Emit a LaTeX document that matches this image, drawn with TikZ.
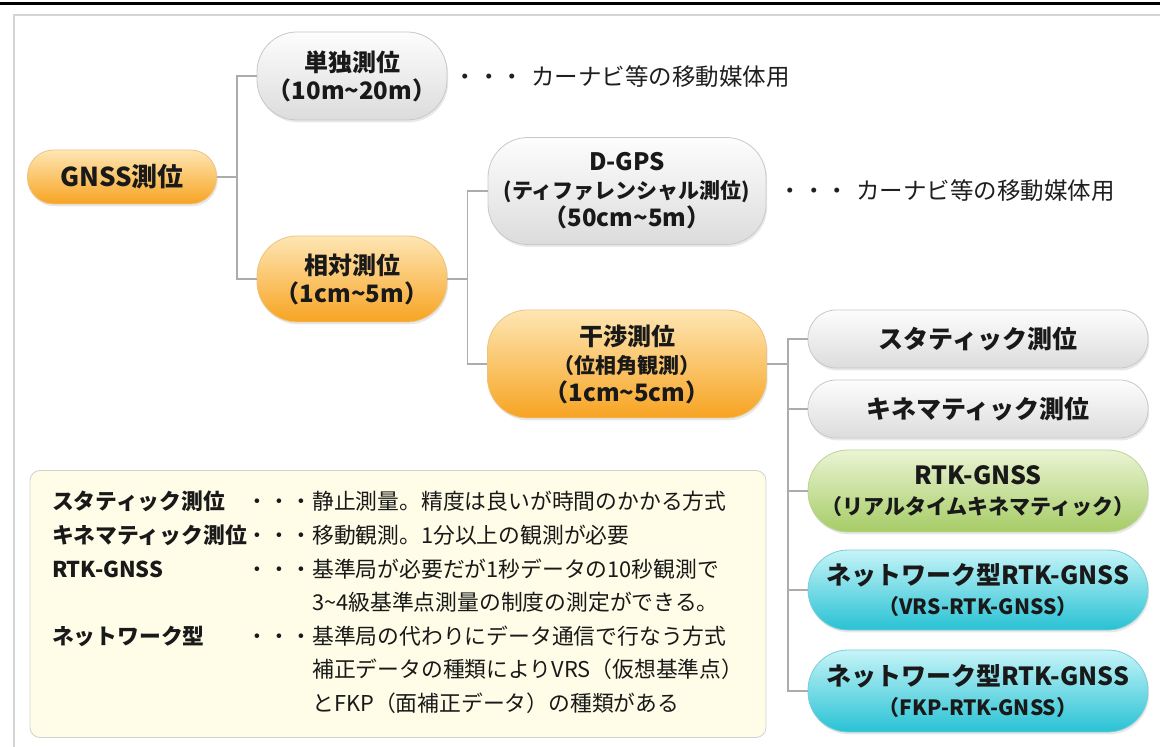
\documentclass[tikz,border=0pt]{standalone}
\usepackage{fontspec}
\setmainfont{Noto Sans CJK JP}
\usepackage{tikz}
\usetikzlibrary{shadows,positioning,calc}
\definecolor{grisH}{RGB}{253,253,253}
\definecolor{grisB}{RGB}{220,220,220}
\definecolor{grisT}{RGB}{200,200,200}
\definecolor{ambreH}{RGB}{254,230,180}
\definecolor{ambreB}{RGB}{247,164,34}
\definecolor{ambreT}{RGB}{236,196,130}
\definecolor{vertH}{RGB}{234,244,212}
\definecolor{vertB}{RGB}{166,204,102}
\definecolor{vertT}{RGB}{188,212,152}
\definecolor{turqH}{RGB}{198,244,248}
\definecolor{turqB}{RGB}{40,194,212}
\definecolor{turqT}{RGB}{120,206,216}
\definecolor{legfond}{RGB}{255,253,231}
\definecolor{trait}{RGB}{172,172,172}
\definecolor{cadre}{RGB}{212,212,212}
\tikzstyle{pill}=[rectangle, rounded corners=20pt, align=center, inner sep=0pt,
  text=black!90, font=\fontsize{12}{14}\selectfont\bfseries,
  drop shadow={opacity=0.18,shadow xshift=0.6pt,shadow yshift=-1.2pt}]
\tikzstyle{gris} = [pill, draw=grisT, top color=grisH, bottom color=grisB]
\tikzstyle{ambre} = [pill, draw=ambreT, top color=ambreH, bottom color=ambreB]
\tikzstyle{verte} = [pill, draw=vertT, top color=vertH, bottom color=vertB]
\tikzstyle{turq} = [pill, draw=turqT, top color=turqH, bottom color=turqB]
\tikzstyle{grand} = [minimum width=170pt, font=\fontsize{12.5}{15}\selectfont\bfseries]
\tikzstyle{texto} = [anchor=west, inner sep=0pt, text=black!88,
  font=\fontsize{11.75}{14}\selectfont]
\tikzstyle{legende} = [draw=black!18, fill=legfond, rounded corners=5pt,
  minimum width=368pt, minimum height=133.5pt, inner xsep=11pt, inner ysep=0pt,
  text width=346pt, align=left, text=black!90, font=\fontsize{10.9}{16.8}\selectfont]
\tikzstyle{line} = [draw, color=trait, line width=0.6pt]
\newcommand{\gris}[3]{node (p#1)[gris,#2]{#3}}
\newcommand{\ambre}[3]{node (p#1)[ambre,#2]{#3}}
\newcommand{\verte}[3]{node (p#1)[verte,#2]{#3}}
\newcommand{\turq}[3]{node (p#1)[turq,#2]{#3}}
\newcommand{\petit}{\fontsize{10.5}{14}\selectfont}
\newcommand{\tld}{\textasciitilde}
\begin{document}
\begin{tikzpicture}[x=0.5pt,y=-0.5pt]
  \useasboundingbox (0,0) rectangle (1160,747);
  % page frame
  \draw[line width=1.65pt] (0,3.4) -- (1160,3.4);
  \draw[cadre, line width=1pt] (1160,15) -- (14,15) -- (14,747);

  % Draw diagram elements
  \path (122,177) \ambre{1}{minimum width=94.5pt,minimum height=27pt,rounded corners=13pt,font=\fontsize{13}{15}\selectfont\bfseries}{GNSS測位};
  \path (p1)+(230,-101) \gris{2}{minimum width=95pt,minimum height=44pt}{単独測位\\（10m\tld 20m）};
  \path (p2)+(0,203) \ambre{3}{minimum width=95pt,minimum height=43pt}{相対測位\\（1cm\tld 5m）};
  \path (p3)+(275,-88) \gris{4}{minimum width=139pt,minimum height=53.5pt}{D-GPS\\{\petit (ティファレンシャル測位)}\\（50cm\tld 5m）};
  \path (p4)+(0,173) \ambre{5}{minimum width=139.5pt,minimum height=54pt}{干渉測位\\{\petit （位相角観測）}\\（1cm\tld 5cm）};
  \path (p5)+(351,-25) \gris{6}{grand,minimum height=29pt,rounded corners=14pt}{スタティック測位};
  \path (p6)+(0,70) \gris{7}{grand,minimum height=29pt,rounded corners=14pt}{キネマティック測位};
  \path (p7)+(0,82) \verte{8}{grand,minimum height=41pt}{RTK-GNSS\\{\petit （リアルタイムキネマティック）}};
  \path (p8)+(0,99) \turq{9}{grand,minimum height=40pt}{ネットワーク型RTK-GNSS\\{\petit （VRS-RTK-GNSS）}};
  \path (p9)+(0,101) \turq{10}{grand,minimum height=41pt}{ネットワーク型RTK-GNSS\\{\petit （FKP-RTK-GNSS）}};

  \path (p2.east)+(6,1) node (t1)[texto]{・・・\hspace{0.3em}カーナビ等の移動媒体用};
  \path (p4.east)+(12,0) node (t2)[texto]{・・・\hspace{0.3em}カーナビ等の移動媒体用};

  \path (p1)+(276,427) node (leg)[legende]{%
    \begin{tabular}{@{}l@{}l@{}l@{}}
      \textbf{スタティック測位} & ・・・ & 静止測量。精度は良いが時間のかかる方式\\
      \textbf{キネマティック測位} & ・・・ & 移動観測。1分以上の観測が必要\\
      \textbf{RTK-GNSS} & ・・・ & 基準局が必要だが1秒データの10秒観測で\\
       & & 3\tld 4級基準点測量の制度の測定ができる。\\
      \textbf{ネットワーク型} & ・・・ & 基準局の代わりにデータ通信で行なう方式\\
       & & 補正データの種類によりVRS（仮想基準点）\\
       & & とFKP（面補正データ）の種類がある
    \end{tabular}};

  % Draw arrows between elements
  \path [line] (p1.east) -- +(20,0) |- (p2.west);
  \path [line] (p1.east) -- +(20,0) |- (p3.west);
  \path [line] (p3.east) -- +(20,0) |- (p4.west);
  \path [line] (p3.east) -- +(20,0) |- (p5.west);
  \path [line] (p5.east) -- +(21,0) |- (p6.west);
  \path [line] (p5.east) -- +(21,0) |- (p7.west);
  \path [line] (p5.east) -- +(21,0) |- (p8.west);
  \path [line] (p5.east) -- +(21,0) |- (p9.west);
  \path [line] (p5.east) -- +(21,0) |- (p10.west);

\end{tikzpicture}
\end{document}
